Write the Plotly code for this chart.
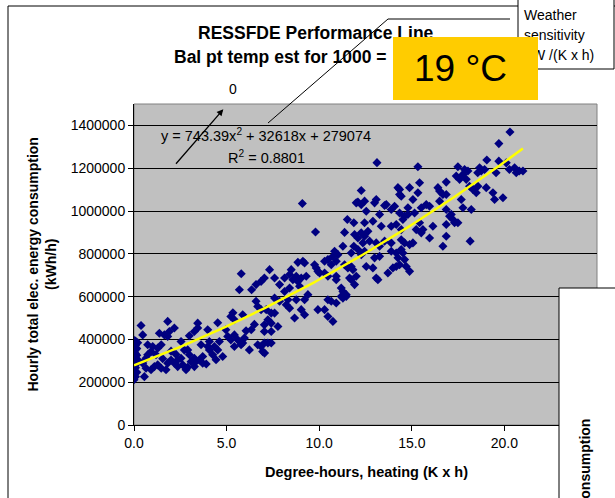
import numpy as np
import plotly.graph_objects as go

# ---------------- data ----------------
degree_hours = [
    0.00, 0.00, 0.00, 0.00, 0.00, 0.00, 0.00, 0.00, 0.00, 0.00,
    0.08, 0.08, 0.08, 0.08, 0.08, 0.08, 0.08, 0.08, 0.15, 0.15, 0.15, 0.15, 0.20, 0.20,
    0.38, 0.47, 0.47, 0.56, 0.65, 0.65, 0.74, 0.74, 0.92, 0.92, 1.01, 1.10, 1.19, 1.28, 1.28,
    1.37, 1.47, 1.47, 1.55, 1.64, 1.73, 1.82, 1.82, 1.82, 1.91, 2.00, 2.00, 2.18, 2.18, 2.27,
    2.36, 2.36, 2.54, 2.54, 2.63, 2.72, 2.81, 2.90, 2.90, 2.99, 2.99, 3.08, 3.26, 3.26, 3.26,
    3.35, 3.44, 3.44, 3.53, 3.62, 3.71, 3.71, 3.90, 3.98, 3.98,
    4.07, 4.07, 4.25, 4.34, 4.43, 4.52, 4.52, 4.61, 4.79, 4.96, 5.06, 5.23, 5.23, 5.34, 5.42,
    5.42, 5.42, 5.60, 5.69, 5.78, 5.79, 5.87, 5.87, 5.96, 6.05, 6.23, 6.33, 6.35, 6.50, 6.59,
    6.59, 6.68, 6.68, 6.86, 6.86, 6.86, 6.95, 7.04, 7.04, 7.04, 7.04, 7.05,
    7.14, 7.23, 7.23, 7.32, 7.41, 7.41, 7.41, 7.41, 7.59, 7.59, 7.59, 7.77, 7.86, 7.86, 8.13,
    8.13, 8.22, 8.31, 8.40, 8.40, 8.40, 8.49, 8.58, 8.67, 8.76, 8.76, 8.85, 8.85, 8.94, 9.03,
    9.03, 9.09, 9.12, 9.21, 9.21, 9.21, 9.30, 9.39,
    9.75, 9.80, 9.84, 9.93, 9.93, 10.02, 10.29, 10.29, 10.29, 10.47, 10.47, 10.47, 10.47,
    10.65, 10.65, 10.74, 10.74, 10.83, 10.92, 10.92, 10.92, 10.92, 11.01, 11.19, 11.19, 11.28,
    11.28, 11.28, 11.37, 11.37, 11.46, 11.46,
    11.52, 11.55, 11.64, 11.73, 11.73, 11.73, 11.82, 11.87, 11.87, 11.91, 11.91, 12.00, 12.00,
    12.09, 12.09, 12.09, 12.27, 12.27, 12.27, 12.27, 12.36, 12.45, 12.45, 12.45, 12.45, 12.54,
    12.54, 12.63, 12.72, 12.90, 12.90, 12.99, 12.99, 13.08, 13.08, 13.08, 13.12, 13.17, 13.26,
    13.26, 13.26, 13.35, 13.53, 13.53, 13.62, 13.71, 13.89, 13.89, 13.89, 13.89, 13.98, 14.07,
    14.16, 14.16, 14.16, 14.25, 14.25, 14.34, 14.34,
    14.34, 14.34, 14.43, 14.43, 14.43, 14.43, 14.52, 14.52, 14.61, 14.61, 14.61, 14.70, 14.79,
    14.79, 14.88, 14.88, 14.88, 15.06, 15.06, 15.15, 15.24, 15.33, 15.33, 15.42, 15.42, 15.51,
    15.51, 15.60, 15.78, 15.96, 15.96, 16.14, 16.41, 16.50, 16.50, 16.68, 16.68, 16.86, 16.86,
    16.86, 16.86, 16.86, 17.04, 17.13, 17.22, 17.31, 17.40, 17.49, 17.49,
    17.58, 17.67, 17.76, 17.76, 17.85, 17.94, 18.03, 18.12, 18.15, 18.21, 18.30, 18.48, 18.56,
    18.57, 18.66, 18.75, 18.93, 19.02, 19.05, 19.38, 19.47, 19.55, 19.70, 19.70, 19.92, 20.10,
    20.27, 20.30, 20.55, 20.64, 20.80, 21.00,
]

energy_kwh = [
    212000, 236000, 258000, 279000, 301000, 322000, 343000, 362000, 381000, 396000,
    226000, 268000, 292000, 313000, 334000, 352000, 371000, 392000, 246000, 287000, 326000, 357000, 384000, 305000,
    465000, 421000, 289000, 226000, 312000, 265000, 375000, 328000, 343000, 258000, 367000, 273000, 328000, 359000, 281000,
    429000, 375000, 265000, 310000, 421000, 258000, 484000, 414000, 289000, 437000, 304000, 345000, 453000, 289000, 330000,
    304000, 273000, 390000, 312000, 281000, 350000, 258000, 270000, 351000, 417000, 328000, 296000, 312000, 437000, 273000,
    297000, 476000, 453000, 304000, 375000, 289000, 320000, 285000, 367000, 445000,
    390000, 351000, 328000, 367000, 305000, 478000, 351000, 390000, 320000, 445000, 414000, 507000, 398000, 524000, 492000,
    421000, 367000, 398000, 632000, 375000, 707000, 515000, 383000, 406000, 440000, 351000, 445000, 632000, 470000, 656000,
    578000, 554000, 375000, 671000, 539000, 367000, 343000, 687000, 437000, 468000, 383000, 336000,
    539000, 492000, 383000, 726000, 523000, 476000, 437000, 383000, 593000, 523000, 687000, 460000, 578000, 656000, 687000,
    624000, 562000, 585000, 703000, 640000, 546000, 726000, 679000, 500000, 695000, 585000, 760000, 671000, 648000, 687000,
    539000, 1035000, 765000, 757000, 585000, 515000, 695000, 609000,
    749000, 902000, 734000, 718000, 539000, 710000, 765000, 710000, 539000, 773000, 695000, 585000, 507000,
    749000, 578000, 788000, 484000, 812000, 765000, 695000, 679000, 570000, 796000, 640000, 601000, 835000,
    624000, 593000, 900000, 749000, 609000, 601000,
    960000, 734000, 687000, 804000, 741000, 679000, 726000, 945000, 835000, 890000, 656000, 1038000, 695000,
    1042000, 874000, 820000, 1096000, 1030000, 898000, 796000, 851000, 1046000, 945000, 882000, 812000, 999000,
    741000, 905000, 859000, 952000, 734000, 1038000, 781000, 1054000, 851000, 687000, 1226000, 679000, 984000,
    835000, 788000, 929000, 1026000, 859000, 1030000, 710000, 1007000, 929000, 851000, 812000, 734000, 1022000,
    937000, 804000, 741000, 1109000, 781000, 1077000, 749000,
    1101000, 991000, 1069000, 913000, 866000, 820000, 960000, 804000, 976000, 851000, 773000, 741000, 1015000,
    984000, 1109000, 843000, 718000, 1054000, 851000, 991000, 913000, 1207000, 1085000, 1132000, 945000, 1015000,
    898000, 913000, 1030000, 1022000, 874000, 929000, 1109000, 1093000, 1046000, 1077000, 835000, 1135000, 1077000,
    1007000, 937000, 882000, 976000, 984000, 960000, 945000, 1163000, 1207000, 945000,
    1148000, 1054000, 1171000, 1015000, 1194000, 1148000, 1187000, 1116000, 859000, 1007000, 1101000, 1085000, 1179000,
    1116000, 1202000, 1187000, 1194000, 1109000, 1238000, 1085000, 1054000, 1179000, 1315000, 1233000, 1062000, 1225000,
    1194000, 1369000, 1202000, 1179000, 1187000, 1187000,
]

# polynomial trendline as printed on the chart: a*x^2 + b*x + c
trend_coef = [743.39, 32618, 279074]
r_squared = 0.8801
x_ticks = [0, 5, 10, 15, 20]
y_ticks = [0, 200000, 400000, 600000, 800000, 1000000, 1200000, 1400000]

# ---------------- geometry helpers (pixel -> paper) ----------------
W, H = 615, 498
L, R, T, B = 134, 597, 104, 425


def px(x):
    return (x - L) / (R - L)


def py(y):
    return (B - y) / (B - T)


FONT = "Liberation Sans, Arial, sans-serif"

x_fit = np.linspace(0, max(degree_hours), 120)
y_fit = np.polyval(trend_coef, x_fit)

fig = go.Figure()
fig.add_trace(go.Scatter(
    x=degree_hours, y=energy_kwh, mode="markers",
    marker=dict(symbol="diamond", size=7, color="#000080", line=dict(width=0)),
    hoverinfo="x+y",
))
fig.add_trace(go.Scatter(
    x=x_fit, y=y_fit, mode="lines",
    line=dict(color="#FFFF00", width=2.5),
    hoverinfo="skip",
))

fig.update_layout(
    width=W, height=H,
    margin=dict(l=L, r=W - R, t=T, b=H - B, pad=0),
    paper_bgcolor="white", plot_bgcolor="#C0C0C0",
    showlegend=False,
    font=dict(family=FONT, color="black", size=14),
    xaxis=dict(
        range=[0, 25], tickmode="array", tickvals=x_ticks + [25],
        ticktext=[f"{v:.1f}" for v in x_ticks] + ["25.0"],
        ticks="outside", ticklen=5, tickcolor="black",
        showline=True, linecolor="black", linewidth=1,
        showgrid=False, zeroline=False, automargin=False,
        tickfont=dict(size=14, family=FONT, color="black"),
    ),
    yaxis=dict(
        range=[0, 1500000], tickmode="array", tickvals=y_ticks,
        ticktext=[str(v) for v in y_ticks],
        ticks="outside", ticklen=5, tickcolor="black",
        showline=True, linecolor="black", linewidth=1,
        showgrid=True, gridcolor="black", gridwidth=1,
        zeroline=False, automargin=False,
        tickfont=dict(size=14, family=FONT, color="black"),
    ),
)

shapes = [
    # outer chart border
    dict(type="rect", xref="paper", yref="paper", x0=px(8), y0=py(6), x1=px(760), y1=py(760),
         line=dict(color="black", width=1), fillcolor="rgba(0,0,0,0)", layer="below"),
    # plot area border
    dict(type="rect", xref="paper", yref="paper", x0=0, y0=0, x1=1, y1=1,
         line=dict(color="#808080", width=1), fillcolor="rgba(0,0,0,0)", layer="below"),
    # overlapping chart box bottom-right
    dict(type="rect", xref="paper", yref="paper", x0=px(559), y0=py(288), x1=px(760), y1=py(760),
         line=dict(color="black", width=1), fillcolor="white", layer="above"),
    # weather sensitivity box
    dict(type="rect", xref="paper", yref="paper", x0=px(518), y0=py(-20), x1=px(614), y1=py(69),
         line=dict(color="black", width=1), fillcolor="white", layer="above"),
    # leader line of trendline label
    dict(type="line", xref="paper", yref="paper", x0=px(268), y0=py(123), x1=px(388), y1=py(19),
         line=dict(color="black", width=1), layer="above"),
    dict(type="line", xref="paper", yref="paper", x0=px(388), y0=py(19), x1=px(510), y1=py(19),
         line=dict(color="black", width=1), layer="above"),
]
fig.update_layout(shapes=shapes)

ann = []


def add_text(text, x, y, size=14, xanchor="center", yanchor="middle", **kw):
    d = dict(text=text, xref="paper", yref="paper", x=px(x), y=py(y), showarrow=False,
             xanchor=xanchor, yanchor=yanchor, font=dict(size=size, family=FONT, color="black"))
    d.update(kw)
    ann.append(d)


add_text("<b>RESSFDE Performance Line</b>", 316, 33, size=17.5)
add_text("<b>Bal pt temp est for 1000 =</b>", 172, 57, size=17.5, xanchor="left")
add_text("Weather", 522, 15, size=14, xanchor="left")
add_text("sensitivity", 522, 35, size=14, xanchor="left")
add_text("kW /(K x h)", 523, 55, size=14, xanchor="left")
# yellow highlight box
ann.append(dict(text=" ", xref="paper", yref="paper", x=px(465.5), y=py(68.5), showarrow=False,
                xanchor="center", yanchor="middle", width=145, height=63, bgcolor="#FFCC00",
                borderpad=0, borderwidth=0, font=dict(size=10)))
add_text("19 °C", 460, 68, size=37)
add_text("0", 233, 89, size=14)
# arrow
ann.append(dict(text=" ", xref="paper", yref="paper", x=px(223.3), y=py(109.3),
                showarrow=True, ax=174 - 223.3, ay=166 - 109.3, axref="pixel", ayref="pixel",
                arrowhead=2, arrowsize=1, arrowwidth=1.3, arrowcolor="black", standoff=0,
                startstandoff=0, font=dict(size=4)))
add_text(f"y = {trend_coef[0]}x<sup>2</sup> + {trend_coef[1]}x + {trend_coef[2]}", 266, 135, size=14.5)
add_text(f"R<sup>2</sup> = {r_squared:.4f}", 266.5, 157, size=14.5)
add_text("<b>Hourly total elec. energy consumption</b><br><b>(kWh/h)</b>", 41, 264.5, size=14,
         textangle=-90)
add_text("<b>Degree-hours, heating (K x h)</b>", 366.5, 472, size=14.5)
add_text("<b>Hourly total elec. energy consumption</b>", 585, 417, size=14, yanchor="top",
         textangle=-90)

fig.update_layout(annotations=ann)
fig.write_html("out.html")
